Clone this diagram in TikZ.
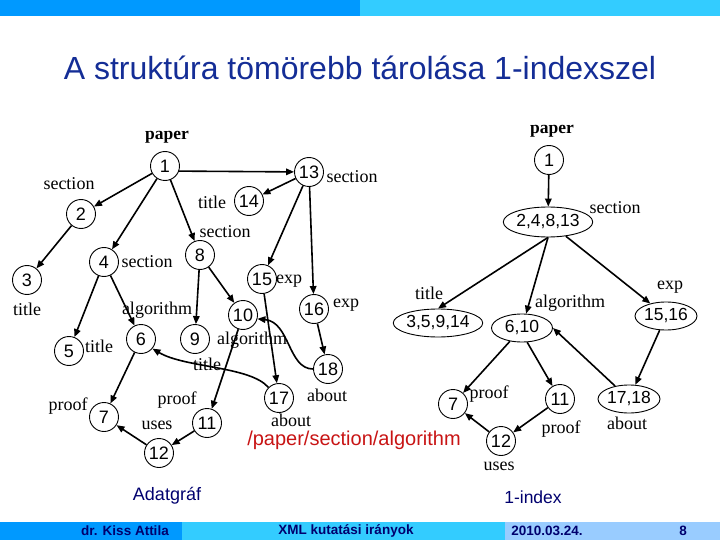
\documentclass[tikz,border=0pt]{standalone}
\usepackage{fontspec}
\setmainfont{Liberation Serif}
\setsansfont{Liberation Sans}
\usetikzlibrary{shapes.geometric,arrows.meta}
\definecolor{barA}{RGB}{0,153,255}
\definecolor{barB}{RGB}{51,204,255}
\definecolor{barC}{RGB}{153,204,255}
\definecolor{titlec}{RGB}{20,45,150}
\definecolor{navy}{RGB}{0,0,110}
\definecolor{redc}{RGB}{200,20,20}
\begin{document}
\begin{tikzpicture}[x=1pt,y=-1pt,
  nd/.style={circle,draw,line width=0.9pt,minimum size=29pt,inner sep=0pt,font=\sffamily\fontsize{18}{18}\selectfont},
  el/.style={ellipse,draw,line width=0.9pt,minimum height=28pt,inner sep=0pt,font=\sffamily\fontsize{17.5}{17.5}\selectfont},
  lb/.style={font=\fontsize{18}{18}\selectfont,inner sep=0pt},
  pp/.style={font=\bfseries\fontsize{17.5}{17.5}\selectfont,inner sep=0pt},
  ar/.style={-{Triangle[length=8pt,width=6.5pt]},line width=1.6pt},
  foot/.style={font=\sffamily\bfseries\fontsize{13.5}{13.5}\selectfont,text=navy,inner sep=0pt},
]
\useasboundingbox (0,0) rectangle (720,540);
% bars
\fill[barA] (0,0) rectangle (360,16);
\fill[barB] (360,0) rectangle (720,16);
\fill[barA] (0,522) rectangle (182,540);
\fill[barB] (182,522) rectangle (505,540);
\fill[barC] (505,522) rectangle (720,540);
\node[foot] (f1) at (125,531) {dr. Kiss Attila};
\node[foot] (f2) at (346,531) {XML kutatási irányok};
\node[foot] (f3) at (547,531) {2010.03.24.};
\node[foot] (f4) at (683,531) {8};
% title
\node[anchor=base,inner sep=0pt,font=\sffamily\fontsize{32}{32}\selectfont,text=titlec] (title) at (360,80) {A struktúra tömörebb tárolása 1-indexszel};
% left graph
\node[nd] (a1) at (165,166) {1};
\node[nd] (a13) at (309,172) {13};
\node[nd] (a14) at (249,201) {14};
\node[nd] (a2) at (81,214) {2};
\node[nd] (a8) at (200,255) {8};
\node[nd] (a4) at (104,262) {4};
\node[nd] (a3) at (27,280) {3};
\node[nd] (a15) at (262,279) {15};
\node[nd] (a16) at (314,309) {16};
\node[nd] (a10) at (243,315) {10};
\node[nd] (a9) at (195,339) {9};
\node[nd] (a6) at (141,339) {6};
\node[nd] (a5) at (69,351) {5};
\node[nd] (a18) at (328,369) {18};
\node[nd] (a17) at (279,398) {17};
\node[nd] (a7) at (104,417) {7};
\node[nd] (a11) at (207,423) {11};
\node[nd] (a12) at (159,453) {12};
% left labels
\node[pp] (lp) at (167,137) {paper};
\node[lb] (l2) at (69,184) {section};
\node[lb] (l13) at (352,177) {section};
\node[lb] (l14) at (212,202) {title};
\node[lb] (l8) at (225,232) {section};
\node[lb] (l4) at (147,262) {section};
\node[lb] (l15) at (289,281) {exp};
\node[lb] (l3) at (27,309) {title};
\node[lb] (l6) at (157,310) {algorithm};
\node[lb] (l16) at (346,305) {exp};
\node[lb] (l5) at (99,346) {title};
\node[lb] (l10) at (252,340) {algorithm};
\node[lb] (l9) at (207,364) {title};
\node[lb] (l18) at (327,395) {about};
\node[lb] (l7) at (68,406) {proof};
\node[lb] (l11) at (177,400) {proof};
\node[lb] (l12) at (157,425) {uses};
\node[lb] (l17) at (291,420) {about};
% left edges
\draw[ar] (a1) -- (a2);
\draw[ar] (a1) -- (a4);
\draw[ar] (a1) -- (a8);
\draw[ar] (a1.-20) -- (a13);
\draw[ar] (a2) -- (a3);
\draw[ar] (a4) -- (a5);
\draw[ar] (a4) -- (a6);
\draw[ar] (a8) -- (a9);
\draw[ar] (a8) -- (a10);
\draw[ar] (a13) -- (a14);
\draw[ar] (a13) -- (a15);
\draw[ar] (a13) -- (a16);
\draw[ar] (a15) -- (a17);
\draw[ar] (a16) -- (a18);
\draw[ar] (a6) -- (a7);
\draw[ar] (a10) -- (a11);
\draw[ar] (a11) -- (a12);
\draw[ar] (a12) -- (a7);
\draw[ar] (a18.west) .. controls (288,369) and (290,322) .. (a10.-15);
\draw[ar] (a17.135) .. controls (250,366) and (185,368) .. (a6.-40);
% right graph
\node[nd] (b1) at (549,160) {1};
\node[el,minimum width=89pt,minimum height=30pt] (b2) at (548,222) {2,4,8,13};
\node[el,minimum width=83pt] (b3) at (438,323) {3,5,9,14};
\node[el,minimum width=61pt] (b6) at (522,328) {6,10};
\node[el,minimum width=60pt] (b15) at (666,316) {15,16};
\node[nd] (b7) at (453,404) {7};
\node[nd] (b11) at (560,399) {11};
\node[el,minimum width=59pt] (b17) at (629,399) {17,18};
\node[nd] (b12) at (501,441) {12};
% right labels
\node[pp] (rp) at (552,131) {paper};
\node[lb] (r2) at (615,208) {section};
\node[lb] (r3) at (429,293) {title};
\node[lb] (r6) at (570,303) {algorithm};
\node[lb] (r15) at (670,287) {exp};
\node[lb] (r7) at (489,394) {proof};
\node[lb] (r11) at (561,429) {proof};
\node[lb] (r17) at (627,423) {about};
\node[lb] (r12) at (499,466) {uses};
% right edges
\draw[ar] (b1) -- (b2);
\draw[ar] (b2.south) -- (b3.north);
\draw[ar] (b2.south) -- (b6);
\draw[ar] (b2) -- (b15);
\draw[ar] (b6) -- (b7);
\draw[ar] (b6.-70) -- (b11);
\draw[ar] (b17) -- (b6.east);
\draw[ar] (b15) -- (b17);
\draw[ar] (b11) -- (b12);
\draw[ar] (b12) -- (b7);
% captions
\node[inner sep=0pt,font=\sffamily\fontsize{20}{20}\selectfont,text=redc] (path) at (354,440) {/paper/section/algorithm};
\node[inner sep=0pt,font=\sffamily\fontsize{18}{18}\selectfont,text=navy] (cap1) at (167,496) {Adatgráf};
\node[inner sep=0pt,font=\sffamily\fontsize{17.5}{17.5}\selectfont,text=navy] (cap2) at (533,497) {1-index};
\end{tikzpicture}
\end{document}
